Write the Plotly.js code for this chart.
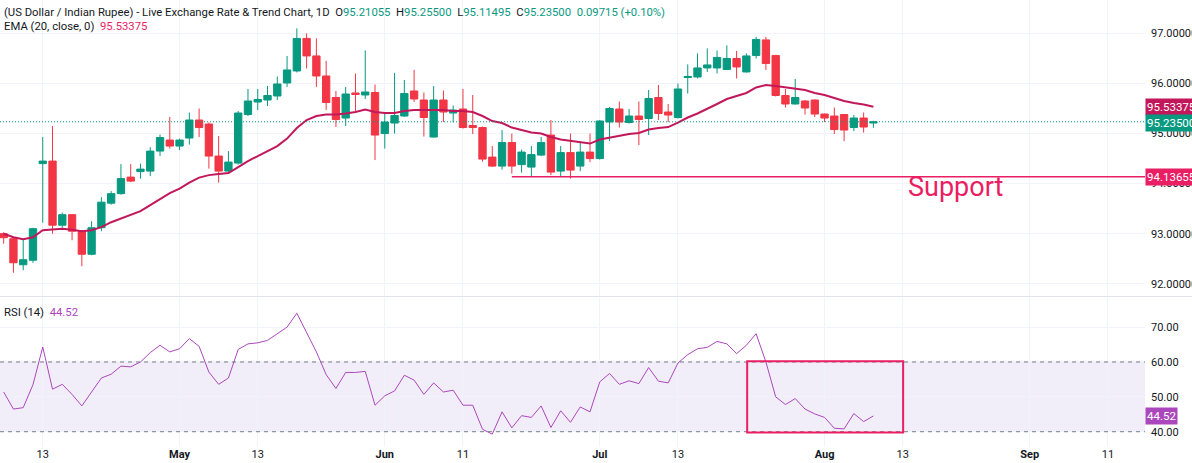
<!DOCTYPE html>
<html>
<head>
<meta charset="utf-8">
<script src="https://cdn.plot.ly/plotly-3.0.1.min.js"></script>
<style>
  html, body { margin: 0; padding: 0; background: #ffffff; overflow: hidden; }
  #chart { width: 1192px; height: 463px; }
</style>
</head>
<body>
<div id="chart"></div>
<script>
// daily bars, weekdays only
const dates = [
  '2026-04-07','2026-04-08','2026-04-09','2026-04-10',
  '2026-04-13','2026-04-14','2026-04-15','2026-04-16','2026-04-17',
  '2026-04-20','2026-04-21','2026-04-22','2026-04-23','2026-04-24',
  '2026-04-27','2026-04-28','2026-04-29','2026-04-30','2026-05-01',
  '2026-05-04','2026-05-05','2026-05-06','2026-05-07','2026-05-08',
  '2026-05-11','2026-05-12','2026-05-13','2026-05-14','2026-05-15',
  '2026-05-18','2026-05-19','2026-05-20','2026-05-21','2026-05-22',
  '2026-05-25','2026-05-26','2026-05-27','2026-05-28','2026-05-29',
  '2026-06-01','2026-06-02','2026-06-03','2026-06-04','2026-06-05',
  '2026-06-08','2026-06-09','2026-06-10','2026-06-11','2026-06-12',
  '2026-06-15','2026-06-16','2026-06-17','2026-06-18','2026-06-19',
  '2026-06-22','2026-06-23','2026-06-24','2026-06-25','2026-06-26',
  '2026-06-29','2026-06-30','2026-07-01','2026-07-02','2026-07-03',
  '2026-07-06','2026-07-07','2026-07-08','2026-07-09','2026-07-10',
  '2026-07-13','2026-07-14','2026-07-15','2026-07-16','2026-07-17',
  '2026-07-20','2026-07-21','2026-07-22','2026-07-23','2026-07-24',
  '2026-07-27','2026-07-28','2026-07-29','2026-07-30','2026-07-31',
  '2026-08-03','2026-08-04','2026-08-05','2026-08-06','2026-08-07',
  '2026-08-10'
];

const open = [
  93.00, 92.90, 92.38, 92.47,
  94.40, 94.45, 93.17, 93.38, 93.05,
  92.59, 93.12, 93.61, 93.80, 94.13,
  94.24, 94.25, 94.65, 94.87, 94.75,
  94.91, 95.27, 95.19, 94.55, 94.25,
  94.41, 95.38, 95.63, 95.67, 95.75,
  96.01, 96.25, 96.90, 96.55, 96.15,
  95.72, 95.31, 95.81, 95.77, 95.82,
  95.00, 95.21, 95.35, 95.85, 95.67,
  94.93, 95.67, 95.41, 95.49, 95.16,
  95.12, 94.53, 94.35, 94.82, 94.38,
  94.33, 94.57, 94.97, 94.25, 94.62,
  94.35, 94.63, 94.50, 95.23, 95.49,
  95.22, 95.35, 95.30, 95.72, 95.43,
  95.32, 96.12, 96.13, 96.31, 96.31,
  96.28, 96.50, 96.23, 96.56, 96.87,
  96.56, 95.76, 95.59, 95.65, 95.67,
  95.39, 95.35, 95.38, 95.12, 95.31,
  95.21055
];
const high = [
  93.03, 92.93, 92.90, 93.12,
  94.93, 95.15, 93.42, 93.38, 93.07,
  93.25, 93.73, 93.85, 94.39, 94.39,
  94.40, 94.73, 94.98, 95.33, 94.90,
  95.42, 95.50, 95.22, 94.95, 94.65,
  95.45, 95.89, 95.89, 95.95, 96.14,
  96.55, 97.10, 97.00, 96.90, 96.45,
  95.85, 95.93, 96.20, 96.66, 95.98,
  95.40, 96.21, 96.07, 96.27, 95.82,
  95.95, 95.86, 95.56, 95.89, 95.77,
  95.14, 94.75, 95.07, 95.00, 94.68,
  94.75, 94.93, 95.27, 94.75, 95.00,
  94.82, 95.00, 95.27, 95.53, 95.64,
  95.49, 95.64, 95.87, 95.97, 95.59,
  96.00, 96.38, 96.60, 96.70, 96.66,
  96.76, 96.65, 96.60, 96.93, 96.93,
  96.57, 95.89, 96.09, 95.67, 95.68,
  95.40, 95.52, 95.39, 95.37, 95.42,
  95.25500
];
const low = [
  92.80, 92.22, 92.27, 92.42,
  93.22, 93.00, 93.12, 92.87, 92.35,
  92.57, 93.05, 93.58, 93.78, 94.03,
  94.10, 94.15, 94.55, 94.70, 94.67,
  94.78, 94.93, 94.30, 94.02, 94.22,
  94.38, 95.35, 95.47, 95.55, 95.67,
  95.93, 96.22, 96.30, 95.93, 95.47,
  95.13, 95.15, 95.45, 95.69, 94.47,
  94.70, 95.00, 95.33, 95.63, 94.94,
  94.92, 95.23, 95.22, 95.10, 94.99,
  94.44, 94.33, 94.28, 94.20, 94.22,
  94.15, 94.55, 94.17, 94.13, 94.10,
  94.25, 94.43, 94.48, 94.85, 95.12,
  95.20, 94.77, 94.97, 95.27, 95.23,
  95.30, 95.80, 96.10, 96.23, 96.20,
  96.27, 96.10, 96.22, 96.50, 96.27,
  95.74, 95.52, 95.58, 95.38, 95.33,
  95.23, 94.99, 94.85, 95.05, 95.02,
  95.11495
];
const close = [
  92.92, 92.42, 92.48, 93.10,
  94.45, 93.17, 93.38, 93.05, 92.59,
  93.12, 93.63, 93.80, 94.10, 94.05,
  94.29, 94.65, 94.92, 94.75, 94.87,
  95.27, 95.12, 94.55, 94.25, 94.43,
  95.41, 95.65, 95.68, 95.76, 95.99,
  96.27, 96.90, 96.55, 96.15, 95.62,
  95.28, 95.79, 95.78, 95.83, 94.97,
  95.23, 95.36, 95.80, 95.69, 95.32,
  95.67, 95.43, 95.47, 95.12, 95.12,
  94.49, 94.35, 94.82, 94.35, 94.63,
  94.58, 94.82, 94.23, 94.62, 94.27,
  94.63, 94.50, 95.25, 95.50, 95.23,
  95.35, 95.28, 95.70, 95.40, 95.37,
  95.89, 96.14, 96.31, 96.37, 96.52,
  96.50, 96.33, 96.55, 96.88, 96.40,
  95.76, 95.59, 95.72, 95.51, 95.39,
  95.31, 95.08, 95.07, 95.31, 95.13,
  95.23500
];

// EMA (20, close)
const ema20 = [
  93.00, 92.93, 92.89, 92.93,
  93.07, 93.08, 93.10, 93.08, 93.05,
  93.07, 93.13, 93.23, 93.30, 93.37,
  93.45, 93.57, 93.69, 93.81, 93.90,
  94.02, 94.12, 94.17, 94.19, 94.21,
  94.33, 94.45, 94.55, 94.65, 94.75,
  94.90, 95.11, 95.27, 95.35, 95.38,
  95.38, 95.40, 95.43, 95.48, 95.43,
  95.41, 95.41, 95.45, 95.47, 95.47,
  95.47, 95.47, 95.45, 95.45, 95.43,
  95.35, 95.25, 95.21, 95.12, 95.07,
  95.02, 95.00, 94.93, 94.88, 94.85,
  94.82, 94.80, 94.88, 94.92, 94.95,
  94.99, 95.01, 95.08, 95.11, 95.13,
  95.22, 95.32, 95.40, 95.49, 95.59,
  95.69, 95.75, 95.81, 95.92, 95.97,
  95.95, 95.92, 95.90, 95.87, 95.81,
  95.77, 95.71, 95.65, 95.61, 95.58,
  95.53375
];

// RSI (14)
const rsi14 = [
  51.4, 46.5, 46.9, 53.5,
  64.3, 52.2, 53.6, 50.7, 47.4,
  51.4, 55.4, 56.5, 58.8, 58.6,
  60.0, 62.7, 64.8, 62.9, 63.8,
  66.7, 64.5, 57.1, 53.6, 55.4,
  63.6, 65.2, 65.5, 66.2, 68.1,
  70.0, 74.0, 68.4, 62.9, 56.4,
  52.4, 57.0, 57.0, 57.3, 47.6,
  50.3, 51.7, 56.2, 54.8, 50.7,
  54.0, 51.4, 51.9, 47.6, 47.6,
  40.7, 39.3, 45.7, 41.1, 44.6,
  44.1, 47.4, 41.2, 46.0, 42.7,
  47.1, 45.7, 54.3, 56.7, 53.6,
  54.6, 53.8, 58.4, 54.5, 54.0,
  59.7, 62.1, 63.8, 64.2, 65.9,
  65.2, 62.4, 64.8, 68.1, 60.0,
  50.0, 47.8, 49.5, 46.5, 45.1,
  44.1, 41.0, 40.8, 45.2, 42.9,
  44.52
];

const xTickVals = ['2026-04-13','2026-05-01','2026-05-13','2026-06-01','2026-06-11',
  '2026-07-01','2026-07-13','2026-08-03','2026-08-13','2026-09-01','2026-09-11'];
const xTickText = ['13','<b>May</b>','13','<b>Jun</b>','11','<b>Jul</b>','13','<b>Aug</b>','13','<b>Sep</b>','11'];
const priceTicks = [92, 93, 94, 95, 96, 97];
const rsiTicks = [40, 50, 60, 70];

const supportLevel = 94.13655;
const supportStart = '2026-06-18';
const rsiBoxStart = '2026-07-22 02:00';
const rsiBoxEnd = '2026-08-13 01:00';

const UP = '#089981';
const DOWN = '#f23645';
const EMA_COL = '#c2185b';
const PINK = '#e91e63';
const RSI_COL = '#ab47bc';
const TXT = '#131722';
const GRID = '#f0f3fa';

const xRange = ['2026-04-06 15:00', '2026-09-16 19:00'];
const last = close[close.length - 1];
const lastEma = ema20[ema20.length - 1];
const lastRsi = rsi14[rsi14.length - 1];

const candles = {
  type: 'candlestick',
  x: dates, open: open, high: high, low: low, close: close,
  xaxis: 'x', yaxis: 'y',
  increasing: { line: { color: UP, width: 1 }, fillcolor: UP },
  decreasing: { line: { color: DOWN, width: 1 }, fillcolor: DOWN },
  whiskerwidth: 0,
  hoverinfo: 'skip',
  showlegend: false
};

const emaTrace = {
  type: 'scatter', mode: 'lines',
  x: dates, y: ema20, xaxis: 'x', yaxis: 'y',
  line: { color: EMA_COL, width: 2 },
  hoverinfo: 'skip', showlegend: false
};

const rsiTrace = {
  type: 'scatter', mode: 'lines',
  x: dates, y: rsi14, xaxis: 'x', yaxis: 'y2',
  line: { color: RSI_COL, width: 1 },
  hoverinfo: 'skip', showlegend: false
};

const H = 446; // plot area height in px
const sep = 296.5;

const nb = '\u00a0';
const layout = {
  width: 1192, height: 463,
  margin: { l: 0, r: 47, t: 0, b: 17 },
  paper_bgcolor: '#ffffff',
  plot_bgcolor: '#ffffff',
  font: { family: 'Roboto, "Liberation Sans", sans-serif', color: TXT, size: 11 },
  showlegend: false,
  boxgap: 0.25,
  boxgroupgap: 0,
  xaxis: {
    type: 'date', anchor: 'y2', range: xRange,
    rangebreaks: [{ bounds: ['sat', 'mon'] }],
    rangeslider: { visible: false },
    tickvals: xTickVals, ticktext: xTickText,
    showgrid: true, gridcolor: GRID, gridwidth: 1,
    zeroline: false, showline: false, ticks: '',
    tickfont: { size: 11, color: TXT }
  },
  yaxis: {
    domain: [(H - sep) / H, 1], anchor: 'x', side: 'right',
    range: [91.746, 97.667],
    tickvals: priceTicks, tickformat: '.5f',
    showgrid: true, gridcolor: GRID, zeroline: false, showline: false, ticks: '',
    ticklabelstandoff: 5,
    tickfont: { size: 11, color: TXT }
  },
  yaxis2: {
    domain: [0, (H - sep - 1) / H], anchor: 'x', side: 'right',
    range: [35.9, 78.5],
    tickvals: rsiTicks, tickformat: '.2f',
    showgrid: true, gridcolor: GRID, zeroline: false, showline: false, ticks: '',
    ticklabelstandoff: 5,
    tickfont: { size: 11, color: TXT }
  },
  shapes: [
    // RSI band 40-60
    { type: 'rect', xref: 'paper', yref: 'y2', x0: 0, x1: 1, y0: 40, y1: 60,
      fillcolor: 'rgba(126,87,194,0.1)', line: { width: 0 }, layer: 'below' },
    { type: 'line', xref: 'paper', yref: 'y2', x0: 0, x1: 1, y0: 60, y1: 60,
      line: { color: '#787b86', width: 1, dash: '4px,4px' } },
    { type: 'line', xref: 'paper', yref: 'y2', x0: 0, x1: 1, y0: 40, y1: 40,
      line: { color: '#787b86', width: 1, dash: '4px,4px' } },
    // pane separator
    { type: 'line', xref: 'paper', yref: 'paper', x0: 0, x1: 1.05,
      y0: (H - sep) / H, y1: (H - sep) / H, line: { color: '#e0e3eb', width: 1 } },
    // last price dotted line
    { type: 'line', xref: 'paper', yref: 'y', x0: 0, x1: 1, y0: last, y1: last,
      line: { color: UP, width: 1, dash: '1px,2px' } },
    // support line
    { type: 'line', xref: 'x', yref: 'y', x0: supportStart, x1: xRange[1],
      y0: supportLevel, y1: supportLevel, line: { color: PINK, width: 1.5 } },
    // RSI highlight box
    { type: 'rect', xref: 'x', yref: 'y2', x0: rsiBoxStart, x1: rsiBoxEnd, y0: 39.8, y1: 60.2,
      line: { color: PINK, width: 2 }, fillcolor: 'rgba(0,0,0,0)' }
  ],
  annotations: [
    { xref: 'paper', yref: 'paper', x: 0.002, y: 1 - 13 / H, xanchor: 'left', yanchor: 'middle',
      showarrow: false, font: { size: 11.3, color: TXT },
      text: '(US Dollar / Indian Rupee) - Live Exchange Rate &amp; Trend Chart, 1D' + nb + nb +
        'O<span style="color:' + UP + '">95.21055</span>' + nb + nb +
        'H<span style="color:' + UP + '">95.25500</span>' + nb + nb +
        'L<span style="color:' + UP + '">95.11495</span>' + nb + nb +
        'C<span style="color:' + UP + '">95.23500</span>' + nb + nb +
        '<span style="color:' + UP + '">0.09715 (+0.10%)</span>' },
    { xref: 'paper', yref: 'paper', x: 0.002, y: 1 - 27 / H, xanchor: 'left', yanchor: 'middle',
      showarrow: false, font: { size: 11.3, color: TXT },
      text: 'EMA (20, close, 0)' + nb + nb + '<span style="color:' + PINK + '">' + lastEma.toFixed(5) + '</span>' },
    { xref: 'paper', yref: 'paper', x: 0.002, y: 1 - 312 / H, xanchor: 'left', yanchor: 'middle',
      showarrow: false, font: { size: 11.3, color: TXT },
      text: 'RSI (14)' + nb + nb + '<span style="color:' + RSI_COL + '">' + lastRsi.toFixed(2) + '</span>' },
    { xref: 'paper', yref: 'y', x: 906 / 1145, y: 93.93, xanchor: 'left', yanchor: 'middle',
      showarrow: false, font: { size: 27, color: PINK }, text: 'Support' },
    // right axis value tags
    { xref: 'paper', yref: 'y', x: 1, y: lastEma, xanchor: 'left', yanchor: 'middle',
      showarrow: false, bgcolor: EMA_COL, borderpad: 1, font: { size: 11.5, color: '#ffffff' },
      text: lastEma.toFixed(5) },
    { xref: 'paper', yref: 'y', x: 1, y: last - 0.02, xanchor: 'left', yanchor: 'middle',
      showarrow: false, bgcolor: UP, borderpad: 1, font: { size: 11.5, color: '#ffffff' },
      text: last.toFixed(5) },
    { xref: 'paper', yref: 'y', x: 1, y: supportLevel, xanchor: 'left', yanchor: 'middle',
      showarrow: false, bgcolor: PINK, borderpad: 1, font: { size: 11.5, color: '#ffffff' },
      text: supportLevel.toFixed(5) },
    { xref: 'paper', yref: 'y2', x: 1, y: lastRsi, xanchor: 'left', yanchor: 'middle',
      showarrow: false, bgcolor: RSI_COL, borderpad: 1, font: { size: 11.5, color: '#ffffff' },
      text: lastRsi.toFixed(2) }
  ]
};

Plotly.newPlot('chart', [candles, emaTrace, rsiTrace], layout, { displayModeBar: false, staticPlot: true });
</script>
</body>
</html>
